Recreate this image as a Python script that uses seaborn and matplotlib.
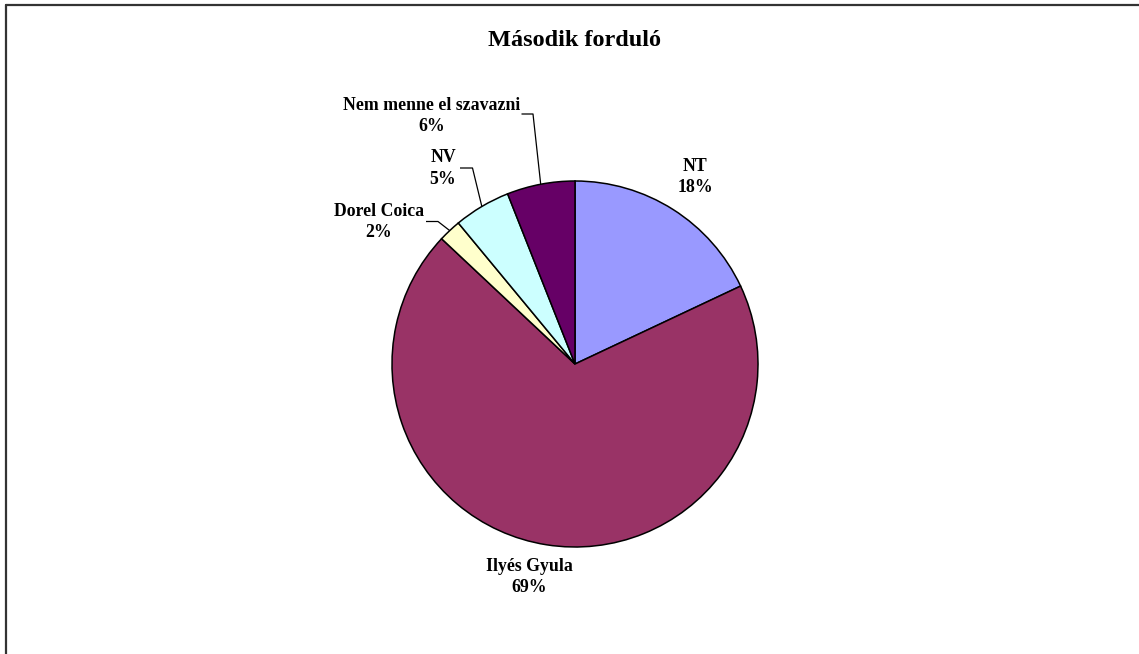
import numpy as np
import matplotlib
matplotlib.use("Agg")
import matplotlib.pyplot as plt
import seaborn as sns

sns.set_theme(style="white")
plt.rcParams['font.family'] = ['Liberation Serif', 'DejaVu Serif']

title = "Második forduló"
categories = ["NT", "Ilyés Gyula", "Dorel Coica", "NV", "Nem menne el szavazni"]
values = [18, 69, 2, 5, 6]
colors = ["#9999FF", "#993366", "#FFFFCC", "#CCFFFF", "#660066"]

W, H = 1139, 654
fig = plt.figure(figsize=(W / 100, H / 100), dpi=100)
ax = fig.add_axes([0, 0, 1, 1])

# pie centre / radius in pixels (layout)
cx, cy, R = 575, 364, 183

wedges, _ = ax.pie(values, colors=colors, startangle=90, counterclock=False,
                   radius=1, wedgeprops=dict(edgecolor="black", linewidth=1.1))
ax.set_aspect("auto")
ax.set_xlim(-cx / R, (W - cx) / R)
ax.set_ylim(-(H - cy) / R, cy / R)
ax.axis("off")

def px(x, y):
    return (x - cx) / R, (cy - y) / R

# label layout (text centre px, leader: text-side end px, elbow px) ; None = no leader
layout = {
    "NT": ((695, 177), None),
    "Ilyés Gyula": ((529, 577), None),
    "Dorel Coica": ((379, 222), ((426, 221.5), (438, 221.5))),
    "NV": ((443, 168.5), ((460, 168), (472.5, 168))),
    "Nem menne el szavazni": ((432, 116), ((521.5, 114), (533, 114))),
}

total = sum(values)
for w, cat, v in zip(wedges, categories, values):
    (tx, ty), leader = layout[cat]
    ax.text(*px(tx, ty), f"{cat}\n{v / total * 100:.0f}%", ha="center", va="center",
            fontsize=12.8, fontweight="bold", linespacing=1.35, color="black")
    if leader is not None:
        mid = np.deg2rad((w.theta1 + w.theta2) / 2)
        ex, ey = np.cos(mid), np.sin(mid)
        p0 = px(*leader[0]); p1 = px(*leader[1])
        ax.plot([p0[0], p1[0], ex], [p0[1], p1[1], ey], color="black", lw=0.9,
                solid_capstyle="butt")

fig.text(575 / W, 1 - 40 / H, title, ha="center", va="center",
         fontsize=17.5, fontweight="bold", color="black")

# partial chart border (top and left)
fig.add_artist(plt.Line2D([5.5 / W, 1], [1 - 4.5 / H, 1 - 4.5 / H], color="#333333", lw=1.6,
                          transform=fig.transFigure))
fig.add_artist(plt.Line2D([5.5 / W, 5.5 / W], [0, 1 - 4.5 / H], color="#333333", lw=1.6,
                          transform=fig.transFigure))

fig.savefig("out.png", dpi=100, facecolor="white")
